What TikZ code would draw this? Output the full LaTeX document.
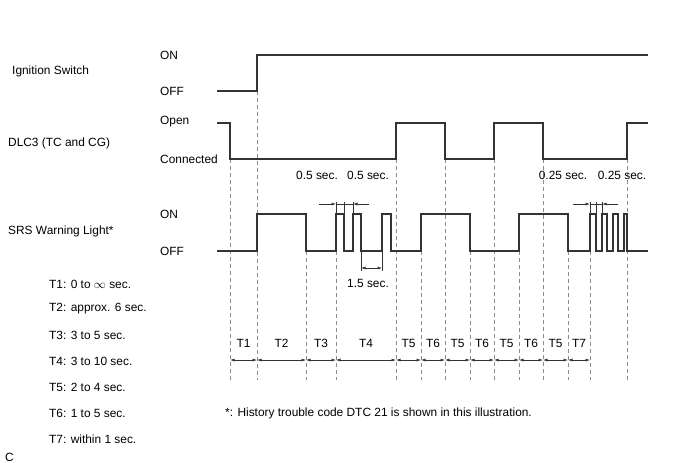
\documentclass[tikz,border=0pt]{standalone}
\usepackage{fontspec}
\setmainfont{Liberation Sans}
\usetikzlibrary{arrows.meta}

\begin{document}
\begin{tikzpicture}
  [x=1pt,y=-1pt,
   wave/.style={black!80,line width=1.3pt},
   guide/.style={black!45,line width=0.7pt,dash pattern=on 4pt off 3pt},
   ext/.style={black!80,line width=0.5pt},
   dim/.style={black!80,line width=0.6pt,{Latex[length=4.5pt,width=3pt]}-{Latex[length=4.5pt,width=3pt]}},
   tip/.style={black!80,line width=0.6pt,-{Latex[length=4.5pt,width=3pt]}},
   lbl/.style={anchor=west,inner sep=0pt,font=\fontsize{11.9}{13}\selectfont},
   txt/.style={inner sep=0pt,font=\fontsize{11.9}{13}\selectfont}]
  \useasboundingbox (0,0) rectangle (688,463);
  % guide lines
  \draw[guide] (230,159) -- (230,380)
  (257,91) -- (257,380)
  (306,251) -- (306,380)
  (336,251) -- (336,380)
  (396,159) -- (396,380)
  (421,251) -- (421,380)
  (445,159) -- (445,380)
  (470,251) -- (470,380)
  (494,159) -- (494,380)
  (519,251) -- (519,380)
  (543,159) -- (543,380)
  (568,251) -- (568,380)
  (590,251) -- (590,380)
  (627,159) -- (627,380);
  % signals
  \draw[wave] (217,91) -- (257,91) -- (257,55) -- (648,55);
  \draw[wave] (217,123) -- (230,123) -- (230,159) -- (396,159) -- (396,123) -- (445,123) -- (445,159)
  -- (494,159) -- (494,123) -- (543,123) -- (543,159) -- (627,159) -- (627,123) -- (648,123);
  \draw[wave] (217,251) -- (257,251) -- (257,214) -- (306,214) -- (306,251) -- (336,251) -- (336,214)
  -- (344,214) -- (344,251) -- (353,251) -- (353,214) -- (361,214) -- (361,251) -- (382,251)
  -- (382,214) -- (391,214) -- (391,251) -- (421,251) -- (421,214) -- (470,214) -- (470,251)
  -- (519,251) -- (519,214) -- (568,214) -- (568,251) -- (590,251) -- (590,214) -- (596,214)
  -- (596,251) -- (602,251) -- (602,214) -- (607,214) -- (607,251) -- (613,251) -- (613,214)
  -- (618,214) -- (618,251) -- (624,251) -- (624,214) -- (627,214) -- (627,251) -- (648,251);
  % pulse widths
  \draw[ext] (336,202) -- (336,214) (344,202) -- (344,214) (353,202) -- (353,214)
  (590,202) -- (590,214) (596,202) -- (596,214) (602,202) -- (602,214)
  (361,251) -- (361,271) (382,251) -- (382,271);
  \draw[tip] (319,204) -- (336,204);
  \draw[ext] (336,204) -- (353,204);
  \draw[tip] (369,204) -- (353,204);
  \draw[tip] (573,204) -- (590,204);
  \draw[ext] (590,204) -- (602,204);
  \draw[tip] (618,204) -- (602,204);
  \draw[dim] (361,268) -- (382,268);
  \node[txt] (half1) at (317,175) {0.5 sec.};
  \node[txt] (half2) at (368,175) {0.5 sec.};
  \node[txt] (quart1) at (563,175) {0.25 sec.};
  \node[txt] (quart2) at (622,175) {0.25 sec.};
  \node[txt] (gap) at (368,283) {1.5 sec.};
  % signal names
  \node[lbl] (ig) at (12,71) {Ignition Switch};
  \node[lbl] (igon) at (160,55) {ON};
  \node[lbl] (igoff) at (160,91) {OFF};
  \node[lbl] (dlc) at (8,143) {DLC3 (TC and CG)};
  \node[lbl] (dlcopen) at (160,122) {Open};
  \node[lbl] (dlccon) at (160,159) {Connected};
  \node[lbl] (srs) at (8,231) {SRS Warning Light*};
  \node[lbl] (srson) at (160,214) {ON};
  \node[lbl] (srsoff) at (160,251) {OFF};
  % periods
  \draw[dim] (230,360) -- (257,360);
  \draw[dim] (257,360) -- (306,360);
  \draw[dim] (306,360) -- (336,360);
  \draw[dim] (336,360) -- (396,360);
  \draw[dim] (396,360) -- (421,360);
  \draw[dim] (421,360) -- (445,360);
  \draw[dim] (445,360) -- (470,360);
  \draw[dim] (470,360) -- (494,360);
  \draw[dim] (494,360) -- (519,360);
  \draw[dim] (519,360) -- (543,360);
  \draw[dim] (543,360) -- (568,360);
  \draw[dim] (568,360) -- (590,360);
  \node[txt] (t1) at (243.5,343) {T1};
  \node[txt] (t2) at (281.5,343) {T2};
  \node[txt] (t3) at (321,343) {T3};
  \node[txt] (t4) at (366,343) {T4};
  \node[txt] (t5a) at (408.5,343) {T5};
  \node[txt] (t6a) at (433,343) {T6};
  \node[txt] (t5b) at (457.5,343) {T5};
  \node[txt] (t6b) at (482,343) {T6};
  \node[txt] (t5c) at (506.5,343) {T5};
  \node[txt] (t6c) at (531,343) {T6};
  \node[txt] (t5d) at (555.5,343) {T5};
  \node[txt] (t7) at (579,343) {T7};
  % legend
  \node[lbl] (k1) at (49,284) {T1: 0 to $\infty$ sec.};
  \node[lbl] (k2) at (49,309) {T2: approx. 6 sec.};
  \node[lbl] (k3) at (49,335) {T3: 3 to 5 sec.};
  \node[lbl] (k4) at (49,361) {T4: 3 to 10 sec.};
  \node[lbl] (k5) at (49,387) {T5: 2 to 4 sec.};
  \node[lbl] (k6) at (49,413) {T6: 1 to 5 sec.};
  \node[lbl] (k7) at (49,439) {T7: within 1 sec.};
  \node[lbl] (note) at (225,413) {*: History trouble code DTC 21 is shown in this illustration.};
  \node[lbl] (code) at (5,457) {C};
\end{tikzpicture}
\end{document}
